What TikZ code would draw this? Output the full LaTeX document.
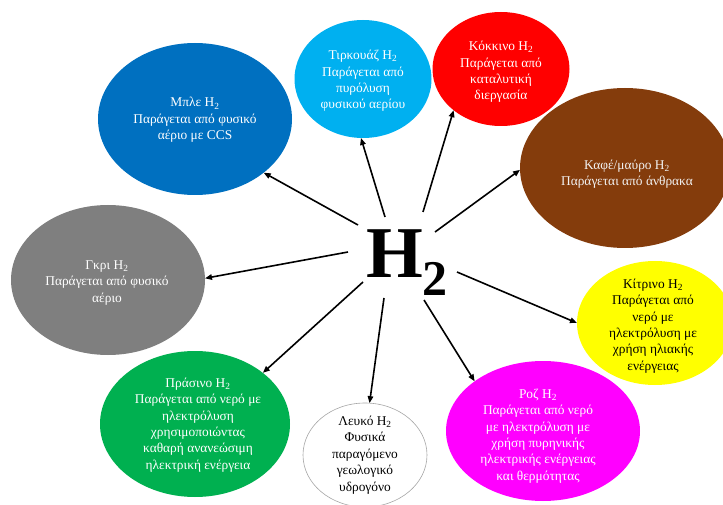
\documentclass[tikz,border=0pt]{standalone}
\usepackage{fontspec}
\setmainfont{Liberation Serif}
\usetikzlibrary{shapes.geometric,arrows.meta}

\definecolor{cblue}{HTML}{0070C0}
\definecolor{cturq}{HTML}{00B0F0}
\definecolor{cred}{HTML}{FF0000}
\definecolor{cbrown}{HTML}{843C0C}
\definecolor{cyellow}{HTML}{FFFF00}
\definecolor{cpink}{HTML}{FF00FF}
\definecolor{cgreen}{HTML}{00B050}
\definecolor{cgrey}{HTML}{7F7F7F}
\definecolor{crim}{HTML}{A6A6A6}

\tikzset{
  bubble/.style={ellipse, inner sep=0pt, outer sep=0pt, draw=none},
  txt/.style={align=center, inner sep=0pt, font=\fontsize{13.4}{16.4}\selectfont},
  link/.style={line width=1.6pt, -{Triangle[length=7pt,width=5.5pt]}},
}

\begin{document}
\begin{tikzpicture}[x=1pt,y=-1pt]
\useasboundingbox (0,0) rectangle (723,505);
\clip (0,0) rectangle (723,505);

% coloured bubbles
\node[bubble, fill=cblue,   minimum width=194, minimum height=152] (blue)   at (195,119) {};
\node[bubble, fill=cturq,   minimum width=137, minimum height=118] (turq)   at (363,79)  {};
\node[bubble, fill=cred,    minimum width=137, minimum height=114] (red)    at (501,69)  {};
\node[bubble, fill=cbrown,  minimum width=210, minimum height=160] (brown)  at (625,168) {};
\node[bubble, fill=cgrey,   minimum width=194, minimum height=150] (grey)   at (108,280) {};
\node[bubble, fill=cyellow, minimum width=156, minimum height=124] (yellow) at (655,323) {};
\node[bubble, fill=cgreen,  minimum width=190, minimum height=146] (green)  at (195,424) {};
\node[bubble, fill=white, draw=crim, line width=0.6pt, minimum width=124, minimum height=104] (white) at (365,455) {};
\node[bubble, fill=cpink,   minimum width=194, minimum height=140] (pink)   at (543,431) {};

% bubble texts
\node[txt, text=white] (bluetxt) at (195,120) {Μπλε H\textsubscript{2}\\Παράγεται από φυσικό\\αέριο με CCS};
\node[txt, text=white] (turqtxt) at (363,81) {Τιρκουάζ H\textsubscript{2}\\Παράγεται από\\πυρόλυση\\φυσικού αερίου};
\node[txt, text=white] (redtxt) at (501,72) {Κόκκινο H\textsubscript{2}\\Παράγεται από\\καταλυτική\\διεργασία};
\node[txt, text=white!95!black] (browntxt) at (627,174) {Καφέ/μαύρο H\textsubscript{2}\\Παράγεται από άνθρακα};
\node[txt, text=white] (greytxt) at (107,283) {Γκρι H\textsubscript{2}\\Παράγεται από φυσικό\\αέριο};
\node[txt, text=black] (yellowtxt) at (653,326) {Κίτρινο H\textsubscript{2}\\Παράγεται από\\νερό με\\ηλεκτρόλυση με\\χρήση ηλιακής\\ενέργειας};
\node[txt, text=white] (greentxt) at (198,425) {Πράσινο H\textsubscript{2}\\Παράγεται από νερό με\\ηλεκτρόλυση\\χρησιμοποιώντας\\καθαρή ανανεώσιμη\\ηλεκτρική ενέργεια};
\node[txt, text=black] (whitetxt) at (365,455) {Λευκό H\textsubscript{2}\\Φυσικά\\παραγόμενο\\γεωλογικό\\υδρογόνο};
\node[txt, text=white] (pinktxt) at (538,436) {Ροζ H\textsubscript{2}\\Παράγεται από νερό\\με ηλεκτρόλυση με\\χρήση πυρηνικής\\ηλεκτρικής ενέργειας\\και θερμότητας};

% central formula
\node[anchor=base west, inner sep=0pt] (h2) at (366,277)
  {\fontsize{73}{73}\selectfont\bfseries H\raisebox{-18pt}{\fontsize{50}{50}\selectfont 2}};

% start points of the spokes around the formula
\coordinate (sblue)   at (358,225);
\coordinate (sturq)   at (385,217);
\coordinate (sred)    at (423,212);
\coordinate (sbrown)  at (435,232);
\coordinate (sgrey)   at (348,252);
\coordinate (syellow) at (457,272);
\coordinate (sgreen)  at (363,282);
\coordinate (swhite)  at (384,298);
\coordinate (spink)   at (424,300);

% spokes
\draw[link] (sblue)   -- (blue.322);
\draw[link] (sturq)   -- (turq.268);
\draw[link] (sred)    -- (red.221);
\draw[link] (sbrown)  -- (brown.181);
\draw[link] (sgrey)   -- (grey.1);
\draw[link] (syellow) -- (yellow.180);
\draw[link] (sgreen)  -- (green.37);
\draw[link] (swhite)  -- (white.85);
\draw[link] (spink)   -- (pink.144);
\end{tikzpicture}
\end{document}
